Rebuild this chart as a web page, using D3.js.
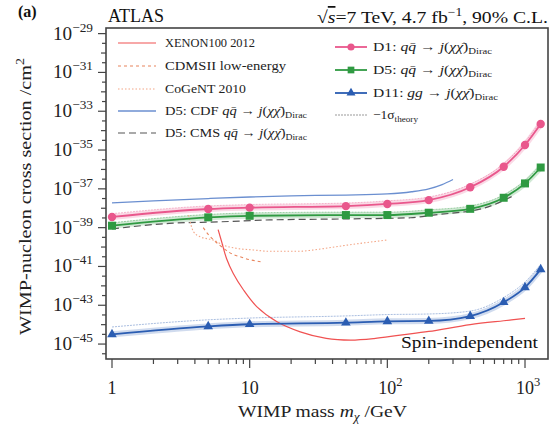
<!DOCTYPE html>
<html><head><meta charset="utf-8">
<script src="https://cdn.jsdelivr.net/npm/d3@7"></script>
<style>
html,body{margin:0;padding:0;background:#fff;}
svg{display:block;}
svg text{font-family:"Liberation Serif","Times New Roman","DejaVu Serif",serif;}
</style></head>
<body><svg id="c" width="554" height="426" font-family="Liberation Serif, DejaVu Serif, serif"></svg>
<script>
// ---- data (log10 of cross section in cm^2) ----
const massPoints = [1,5,10,50,100,200,400,700,1000,1300];
const d1Vals   = [-38.45,-38.04,-37.97,-37.89,-37.78,-37.58,-36.92,-35.86,-34.74,-33.66];
const d1Sigma  = [-38.28,-37.88,-37.81,-37.73,-37.62,-37.42,-36.76,-35.70,-34.58,-33.50];
const d5Vals   = [-38.90,-38.47,-38.39,-38.35,-38.35,-38.23,-38.03,-37.46,-36.72,-35.90];
const d5Sigma  = [-38.75,-38.32,-38.24,-38.20,-38.20,-38.08,-37.88,-37.31,-36.57,-35.75];
const d11Vals  = [-44.50,-44.09,-43.98,-43.90,-43.83,-43.81,-43.56,-42.85,-42.08,-41.15];
const d11Sigma = [-44.12,-43.75,-43.66,-43.55,-43.48,-43.45,-43.30,-42.60,-41.80,-40.90];

const xenonMass = [5.9,6.3,6.8,7.6,9,11.3,15.8,23.3,36,54,80,124,200,400,700,1000];
const xenonVals = [-39.1,-39.8,-40.6,-41.36,-42.2,-43.08,-43.85,-44.37,-44.71,-44.8,-44.72,-44.54,-44.35,-44.0,-43.8,-43.68];

const cdmsMass = [4.6,5.0,5.5,6.3,7.2,8.5,10,12];
const cdmsVals = [-39.0,-39.35,-39.65,-40.0,-40.3,-40.5,-40.65,-40.76];

const cogentMass = [3.6,3.75,3.9,4.36,5.45,6.45,8.07,10.6,14,23,29,51,99];
const cogentVals = [-38.35,-38.87,-39.2,-39.47,-39.64,-39.9,-40.07,-40.15,-40.22,-40.22,-40.15,-39.9,-39.64];

const cdfMass = [1,2,5,10,20,50,100,150,200,250,300];
const cdfVals = [-37.72,-37.62,-37.5,-37.42,-37.36,-37.32,-37.26,-37.15,-37.0,-36.78,-36.52];

const cmsMass = [1,2.6,6.1,14,50,147,215,500,800];
const cmsVals = [-39.07,-38.78,-38.7,-38.6,-38.55,-38.49,-38.35,-38.0,-37.4];

const xTickLabels = [{v:1,t:"1"},{v:10,t:"10"},{v:100,t:"10",e:"2"},{v:1000,t:"10",e:"3"}];
const yTickExps = [-45,-43,-41,-39,-37,-35,-33,-31,-29];

// ---- layout ----
const svg = d3.select("#c");
const L=106,R=548,T=28,B=359;
const x = d3.scaleLog().domain([0.9045,1469]).range([L,R]);
const y = d3.scaleLog().domain([Math.pow(10,-45.77),Math.pow(10,-28.71)]).range([B,T]);
const P = e => Math.pow(10,e);

const col = {d1:"#e9578c", d5:"#2f9a42", d11:"#2b5db2", cdf:"#6b8fd0", xenon:"#f05252", cdms:"#e8845c", cogent:"#f3a585", cms:"#555555"};

svg.append("clipPath").attr("id","pc").append("rect").attr("x",L).attr("y",T).attr("width",R-L).attr("height",B-T);
const g = svg.append("g").attr("clip-path","url(#pc)");

const line = d3.line().x(d=>x(d[0])).y(d=>y(P(d[1]))).curve(d3.curveMonotoneX);
const zip = (a,b)=>a.map((v,i)=>[v,b[i]]);

// uncertainty bands + sigma lines
function band(vals, sig, c){
  g.append("path").attr("d",line(zip(massPoints,vals))).attr("fill","none").attr("stroke",c).attr("stroke-opacity",0.22).attr("stroke-width",6);
  g.append("path").attr("d",line(zip(massPoints,sig))).attr("fill","none").attr("stroke",c).attr("stroke-opacity",0.4).attr("stroke-width",1).attr("stroke-dasharray","2,1");
}
band(d1Vals,d1Sigma,col.d1);
band(d5Vals,d5Sigma,col.d5);
band(d11Vals,d11Sigma,col.d11);

// experimental curves
g.append("path").attr("d",line(zip(cdfMass,cdfVals))).attr("fill","none").attr("stroke",col.cdf).attr("stroke-width",1.3);
g.append("path").attr("d",line(zip(cmsMass,cmsVals))).attr("fill","none").attr("stroke",col.cms).attr("stroke-width",1.2).attr("stroke-dasharray","7,4");
g.append("path").attr("d",line(zip(cdmsMass,cdmsVals))).attr("fill","none").attr("stroke",col.cdms).attr("stroke-width",1.1).attr("stroke-dasharray","3,3");
g.append("path").attr("d",line(zip(cogentMass,cogentVals))).attr("fill","none").attr("stroke",col.cogent).attr("stroke-width",1.1).attr("stroke-dasharray","1.5,2");
g.append("path").attr("d",d3.line().x(d=>x(d[0])).y(d=>y(P(d[1]))).curve(d3.curveCatmullRom)(zip(xenonMass,xenonVals))).attr("fill","none").attr("stroke",col.xenon).attr("stroke-width",1.2);

// collider limit lines
[[d1Vals,col.d1],[d5Vals,col.d5],[d11Vals,col.d11]].forEach(([v,c])=>{
  g.append("path").attr("d",line(zip(massPoints,v))).attr("fill","none").attr("stroke",c).attr("stroke-width",1.8);
});
// markers
const sym = {d1:d3.symbolCircle, d5:d3.symbolSquare, d11:d3.symbolTriangle};
function markers(vals,c,s,size){
  g.selectAll(null).data(vals).enter().append("path")
    .attr("d",d3.symbol().type(s).size(size))
    .attr("transform",(d,i)=>`translate(${x(massPoints[i])},${y(P(d))})`)
    .attr("fill",c);
}
markers(d1Vals,col.d1,sym.d1,55);
markers(d5Vals,col.d5,sym.d5,64);
markers(d11Vals,col.d11,sym.d11,40);

// frame
svg.append("rect").attr("x",L).attr("y",T).attr("width",R-L).attr("height",B-T).attr("fill","none").attr("stroke","#444").attr("stroke-width",1.6);

// x ticks
const xt = svg.append("g").attr("stroke","#444").attr("stroke-width",1.2);
for(let d=0; d<=3; d++){
  for(let k=1;k<=9;k++){
    const v=k*Math.pow(10,d);
    if(v<x.domain()[0]||v>x.domain()[1]) continue;
    const len = k===1?9:5;
    xt.append("line").attr("x1",x(v)).attr("x2",x(v)).attr("y1",B).attr("y2",B+len);
  }
}
const xl = svg.append("g").attr("font-size",18).attr("fill","#222").attr("text-anchor","middle");
xTickLabels.forEach(t=>{
  const tx = xl.append("text").attr("x",x(t.v)+(t.e?3:0)).attr("y",394);
  tx.append("tspan").text(t.t);
  if(t.e) tx.append("tspan").attr("dy",-8).attr("font-size",12.5).text(t.e);
});

// y ticks
const yt = svg.append("g").attr("stroke","#444").attr("stroke-width",1.2);
for(let e=-45.5;e<=-29;e+=0.5){
  const odd = Number.isInteger(e) && Math.abs(e)%2===1;
  const len = odd?8:(Number.isInteger(e)?5:4);
  yt.append("line").attr("x1",L).attr("x2",L-len).attr("y1",y(P(e))).attr("y2",y(P(e)));
}
const yl = svg.append("g").attr("font-size",18).attr("fill","#222");
yTickExps.forEach(e=>{
  const tx = yl.append("text").attr("x",53).attr("y",y(P(e))+6).attr("textLength",40).attr("lengthAdjust","spacingAndGlyphs");
  tx.append("tspan").text("10");
  tx.append("tspan").attr("dy",-8).attr("font-size",12.5).text("\u2212"+Math.abs(e));
});

// axis titles
const xtitle = svg.append("text").attr("x",238).attr("y",417).attr("font-size",17).attr("fill","#222")
  .attr("textLength",169).attr("lengthAdjust","spacingAndGlyphs");
xtitle.append("tspan").text("WIMP mass ");
xtitle.append("tspan").attr("font-style","italic").text("m");
xtitle.append("tspan").attr("font-style","italic").attr("font-size",11.5).attr("dy",4).text("\u03c7");
xtitle.append("tspan").attr("dy",-4).text(" /GeV");

const ytitle = svg.append("text").attr("transform","translate(31,335) rotate(-90)").attr("font-size",17.5).attr("fill","#222")
  .attr("textLength",277).attr("lengthAdjust","spacingAndGlyphs");
ytitle.append("tspan").text("WIMP-nucleon cross section /cm");
ytitle.append("tspan").attr("dy",-7).attr("font-size",12).text("2");

// header texts
svg.append("text").attr("x",18).attr("y",17).attr("font-size",16).attr("font-weight","bold").attr("fill","#111").text("(a)");
svg.append("text").attr("x",108).attr("y",22).attr("font-size",18).attr("fill","#111").text("ATLAS");
const hdr = svg.append("text").attr("x",317).attr("y",23).attr("font-size",17.5).attr("fill","#111")
  .attr("textLength",231).attr("lengthAdjust","spacingAndGlyphs");
hdr.append("tspan").text("\u221a");
hdr.append("tspan").attr("font-style","italic").attr("text-decoration","overline").text("s");
hdr.append("tspan").text("=7 TeV, 4.7 fb");
hdr.append("tspan").attr("dy",-7).attr("font-size",12).text("\u22121");
hdr.append("tspan").attr("dy",7).text(", 90% C.L.");

svg.append("text").attr("x",401).attr("y",348).attr("font-size",17.5).attr("fill","#111")
  .attr("textLength",137).attr("lengthAdjust","spacingAndGlyphs").text("Spin-independent");

// legend
const lg = svg.append("g").attr("font-size",12.5).attr("fill","#222");
function procText(t, pre, proc){
  t.append("tspan").text(pre);
  t.append("tspan").attr("font-style","italic").text(proc);
  t.append("tspan").text(" \u2192 ");
  t.append("tspan").attr("font-style","italic").text("j");
  t.append("tspan").text("(");
  t.append("tspan").attr("font-style","italic").text("\u03c7\u03c7\u0304");
  t.append("tspan").text(")");
  t.append("tspan").attr("font-size",8.5).attr("dy",3).text("Dirac");
}
const leftRows = [
  {y:43, c:col.xenon, dash:null, w:1.2, label:"XENON100 2012", len:90},
  {y:66, c:col.cdms, dash:"3,3", w:1.1, label:"CDMSII low-energy", len:121},
  {y:89, c:col.cogent, dash:"1.5,2", w:1.1, label:"CoGeNT 2010", len:81},
  {y:111, c:col.cdf, dash:null, w:1.3, pre:"D5: CDF ", proc:"q\u0071\u0304", len:142},
  {y:133, c:col.cms, dash:"7,4", w:1.2, pre:"D5: CMS ", proc:"q\u0071\u0304", len:142}
];
leftRows.forEach(r=>{
  lg.append("line").attr("x1",118).attr("x2",156).attr("y1",r.y).attr("y2",r.y).attr("stroke",r.c).attr("stroke-width",r.w).attr("stroke-dasharray",r.dash);
  const t = lg.append("text").attr("x",165).attr("y",r.y+4).attr("textLength",r.len).attr("lengthAdjust","spacingAndGlyphs");
  if(r.label) t.text(r.label); else procText(t,r.pre,r.proc);
});
const rightRows = [
  {y:47, c:col.d1, s:sym.d1, sz:40, pre:"D1: ", proc:"q\u0071\u0304", len:119},
  {y:70, c:col.d5, s:sym.d5, sz:45, pre:"D5: ", proc:"q\u0071\u0304", len:119},
  {y:93, c:col.d11, s:sym.d11, sz:35, pre:"D11: ", proc:"gg", len:125}
];
rightRows.forEach(r=>{
  lg.append("line").attr("x1",335).attr("x2",367).attr("y1",r.y).attr("y2",r.y).attr("stroke",r.c).attr("stroke-width",1.8);
  lg.append("path").attr("d",d3.symbol().type(r.s).size(r.sz)).attr("transform",`translate(351,${r.y})`).attr("fill",r.c);
  const t = lg.append("text").attr("x",373).attr("y",r.y+4).attr("textLength",r.len).attr("lengthAdjust","spacingAndGlyphs");
  procText(t,r.pre,r.proc);
});
lg.append("line").attr("x1",335).attr("x2",367).attr("y1",115).attr("y2",115).attr("stroke","#999").attr("stroke-width",1).attr("stroke-dasharray","2,1");
const st = lg.append("text").attr("x",373).attr("y",119).attr("textLength",45).attr("lengthAdjust","spacingAndGlyphs");
st.append("tspan").text("\u22121\u03c3");
st.append("tspan").attr("font-size",8.5).attr("dy",3).text("theory");
</script></body></html>
